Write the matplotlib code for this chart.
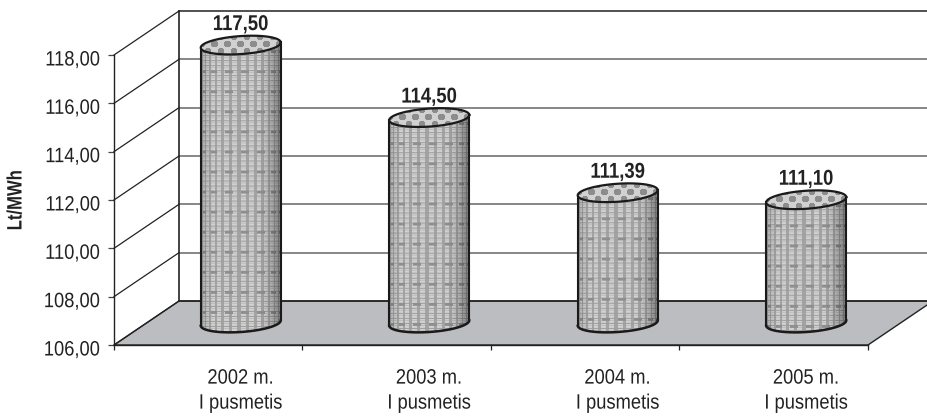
import numpy as np
import matplotlib
matplotlib.use("Agg")
import matplotlib.pyplot as plt
from matplotlib.patches import Polygon, PathPatch
from matplotlib.path import Path
from matplotlib.patheffects import AbstractPathEffect
from matplotlib.transforms import Affine2D, ScaledTranslation

years = ["2002 m.\nI pusmetis", "2003 m.\nI pusmetis", "2004 m.\nI pusmetis", "2005 m.\nI pusmetis"]
values = [117.50, 114.50, 111.39, 111.10]
y_ticks = [106, 108, 110, 112, 114, 116, 118]

plt.rcParams["font.family"] = ["Liberation Sans", "DejaVu Sans"]


# no narrow font installed, so squeeze the glyph outlines sideways
class Squeeze(AbstractPathEffect):
    def __init__(self, sx=0.86, anchor="center"):
        super().__init__()
        self.sx = sx
        self.anchor = anchor

    def draw_path(self, renderer, gc, tpath, affine, rgbFace=None):
        xs = tpath.vertices[:, 0]
        a = xs.max() if self.anchor == "right" else (xs.min() + xs.max()) / 2
        m = Affine2D().translate(-a, 0).scale(self.sx, 1).translate(a, 0) + affine
        renderer.draw_path(gc, tpath, m, rgbFace)


W, H = 928, 417
fig = plt.figure(figsize=(W / 100, H / 100), dpi=100)
# front plane of the fake 3D box
ax = fig.add_axes([114 / W, (H - 345) / H, (868 - 114) / W, 290 / H])
ax.set_xlim(-0.5, 3.5)
ax.set_ylim(106, 118)
ax.patch.set_visible(False)

px_x = 4 / 754          # data units per pixel
px_y = 12 / 290
depth_x = 65 * px_x
depth_y = 44 * px_y
x0, x1 = -0.5, 3.5
y0, y1 = 106, 118

# floor
ax.add_patch(Polygon([(x0, y0), (x1, y0), (x1 + depth_x, y0 + depth_y), (x0 + depth_x, y0 + depth_y)],
                     fc="#bcbdc0", ec="#222222", lw=1.0, clip_on=False, zorder=1))
# back wall lines and side wall
for t in y_ticks:
    ax.plot([x0, x0 + depth_x], [t, t + depth_y], color="#222222", lw=0.9, clip_on=False, zorder=2)
    if t > y0:
        c = "#222222" if t == 118 else "#666666"
        ax.plot([x0 + depth_x, x1 + depth_x], [t + depth_y, t + depth_y], color=c, lw=1.1, clip_on=False, zorder=2)
ax.plot([x0 + depth_x, x1 + depth_x], [y0 + depth_y, y0 + depth_y], color="#222222", lw=1.1, clip_on=False, zorder=2)
ax.plot([x0 + depth_x, x0 + depth_x], [y0 + depth_y, y1 + depth_y], color="#222222", lw=1.2, clip_on=False, zorder=2)


def make_texture(w, h):
    # grey basket pattern, dark towards the right edge of the cylinder
    yy, xx = np.mgrid[0:h, 0:w]
    u = (xx + 0.5) / w * 2 - 1
    ang = np.arcsin(np.clip(u, -0.999, 0.999))
    cols = np.sin(ang * 30) > -0.3
    rows = (yy % 5) < 1
    band = (yy % 20) < 3
    tex = np.full((h, w), 0.64)
    tex[cols] = 0.82
    tex[(yy % 5 == 2) & cols] = 0.74
    tex[rows] = 0.62
    tex[band & (np.sin(ang * 15) > 0)] = 0.56
    shade = 1.0 - 0.40 * np.clip((u - 0.45) / 0.55, 0, 1) ** 1.5 - 0.15 * np.clip((-u - 0.7) / 0.3, 0, 1)
    return tex * shade


def make_top_texture(w, h):
    yy, xx = np.mgrid[0:h, 0:w]
    row = yy // 7
    dx = (xx + row * 6.5) % 13 - 6.5
    dy = yy % 7 - 3.5
    tex = np.full((h, w), 0.82)
    tex[dx ** 2 + dy ** 2 < 12] = 0.55
    return tex


half_w = 40 * px_x
half_h = 9 * px_y
tilt = 2.6 * px_y      # rise of the rim from left to right
t = np.linspace(0, 2 * np.pi, 120)

for i, v in enumerate(values):
    cx = i + depth_x / 2
    base = y0 + depth_y / 2
    top = v + depth_y / 2
    # rim rises to the right, so y grows with cos(t)
    ex = half_w * np.cos(t)
    ey = half_h * np.sin(t) + tilt * np.cos(t)
    lower = t[(t >= np.pi) & (t <= 2 * np.pi)]
    bx = cx + half_w * np.cos(lower)
    by = base + half_h * np.sin(lower) + tilt * np.cos(lower)
    outline = np.vstack([np.column_stack([bx, by]),
                         [[cx + half_w, top + tilt]],
                         [[cx - half_w, top - tilt]],
                         [[bx[0], by[0]]]])
    body = Path(outline)
    h_px = int((top - base) / px_y) + 30
    im = ax.imshow(make_texture(80, h_px), cmap="gray", vmin=0, vmax=1, aspect="auto", interpolation="bilinear",
                   extent=(cx - half_w, cx + half_w, base - 15 * px_y, top + 15 * px_y), zorder=3)
    im.set_clip_box(fig.bbox)
    im.set_clip_path(PathPatch(body, transform=ax.transData))
    ax.plot(bx, by, color="#1a1a1a", lw=1.8, zorder=5, clip_on=False)
    ax.plot([cx - half_w, cx - half_w], [base - tilt, top - tilt], color="#1a1a1a", lw=1.5, zorder=5, clip_on=False)
    ax.plot([cx + half_w, cx + half_w], [base + tilt, top + tilt], color="#1a1a1a", lw=1.5, zorder=5, clip_on=False)
    # top ellipse
    tx, ty = cx + ex, top + ey
    cap = Path(np.column_stack([tx, ty]))
    im2 = ax.imshow(make_top_texture(80, 24), cmap="gray", vmin=0, vmax=1, aspect="auto", interpolation="bilinear",
                    extent=(cx - half_w, cx + half_w, top - 12 * px_y, top + 12 * px_y), zorder=6)
    im2.set_clip_box(fig.bbox)
    im2.set_clip_path(PathPatch(cap, transform=ax.transData))
    ax.plot(tx, ty, color="#1a1a1a", lw=1.6, zorder=7, clip_on=False)
    ax.text(cx, top + 10 * px_y, f"{v:.2f}".replace(".", ","), ha="center", va="bottom",
            fontsize=15.5, fontweight="bold", color="#222222", zorder=8,
            path_effects=[Squeeze(0.86)])

ax.set_xlim(-0.5, 3.5)
ax.set_ylim(106, 118)

ax.set_xticks(np.arange(-0.5, 4, 1))
ax.set_xticklabels([])
ax.set_xticks(np.arange(4) + depth_x / 2, labels=years, minor=True)
ax.tick_params(axis="x", which="major", length=3.6, width=0.9, color="#222222", direction="out")
ax.tick_params(axis="x", which="minor", length=0, pad=17, labelsize=15, labelcolor="#222222")
for lab in ax.get_xticklabels(minor=True):
    lab.set_linespacing(1.4)
    lab.set_path_effects([Squeeze(0.88)])
ax.set_yticks(y_ticks, labels=[f"{t:.2f}".replace(".", ",") for t in y_ticks])
ax.tick_params(axis="y", length=4.3, width=0.9, color="#444444", labelsize=15, labelcolor="#222222", pad=5.5)
label_drop = ScaledTranslation(0, -3 / 100, fig.dpi_scale_trans)
for lab in ax.get_yticklabels():
    lab.set_path_effects([Squeeze(0.88, anchor="right")])
    lab.set_transform(lab.get_transform() + label_drop)
for s in ["top", "right"]:
    ax.spines[s].set_visible(False)
for s in ["left", "bottom"]:
    ax.spines[s].set_linewidth(1.0)
    ax.spines[s].set_color("#222222")
    ax.spines[s].set_zorder(2)

fig.text(16 / W, 1 - 200 / H, "Lt/MWh", rotation=90, ha="center", va="center",
         fontsize=15, fontweight="bold", color="#222222", path_effects=[Squeeze(0.8)])

fig.savefig("out.png", dpi=100)
plt.close(fig)
